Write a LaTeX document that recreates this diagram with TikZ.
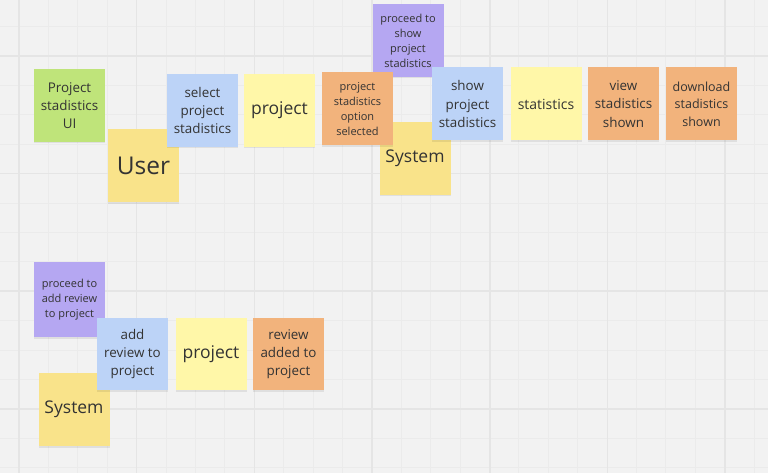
\documentclass[tikz,border=0pt]{standalone}
\usepackage{fontspec}
\setmainfont{Open Sans}
\usepackage{tikz}
\usetikzlibrary{shadows}
\definecolor{bgcol}{HTML}{F2F2F2}
\definecolor{gridminor}{HTML}{EBEBEB}
\definecolor{gridmajor}{HTML}{E5E5E5}
\definecolor{notegreen}{HTML}{BFE47A}
\definecolor{noteyellow}{HTML}{F9E38A}
\definecolor{notelight}{HTML}{FFF7A8}
\definecolor{noteblue}{HTML}{BCD3F7}
\definecolor{noteorange}{HTML}{F2B37C}
\definecolor{notepurple}{HTML}{B5A7F2}
\definecolor{inkcol}{HTML}{333333}
\newcommand{\SizeN}{\fontsize{13.4}{18.3}\selectfont}
\newcommand{\SizeS}{\fontsize{11}{15}\selectfont}
\newcommand{\SizeL}{\fontsize{17.5}{22}\selectfont}
\newcommand{\SizeXL}{\fontsize{24.5}{28}\selectfont}

\begin{document}
\begin{tikzpicture}[x=1pt,y=-1pt,node distance=77pt,
    note/.style={minimum width=71pt,minimum height=73pt,inner sep=1pt,align=center,
      text=inkcol,font=\SizeN,general shadow={fill=black,opacity=.08,shadow yshift=-1.5pt}},
    green/.style={note,fill=notegreen},
    yellow/.style={note,fill=noteyellow},
    light/.style={note,fill=notelight},
    blue/.style={note,fill=noteblue},
    orange/.style={note,fill=noteorange},
    purple/.style={note,fill=notepurple}]

      \fill[bgcol] (0,0) rectangle (768,473);
      \useasboundingbox (0,0) rectangle (768,473);
      % grid
      \foreach \i in {0,...,26} {
        \draw[gridminor, line width=.9pt] ({-10.4+29.4*\i},0) -- ++(0,473);
      }
      \foreach \i in {0,...,16} {
        \draw[gridminor, line width=.9pt] (0,{-2.8+29.4*\i}) -- ++(768,0);
      }
      \foreach \i in {0,...,6} {
        \draw[gridmajor, line width=1.5pt] ({19+117.7*\i},0) -- ++(0,473);
      }
      \foreach \i in {0,...,3} {
        \draw[gridmajor, line width=1.5pt] (0,{56+117.6*\i}) -- ++(768,0);
      }

      % project statistics
      \node[green] (ui) at (69.5,105.5) {Project\\stadistics\\UI};
      \node[yellow, font=\SizeXL] (user) at (143.5,166) {User};
      \node[blue] (select) at (202.5,110.5) {select\\project\\stadistics};
      \node[light, font=\SizeL] (proja) [right of=select] {project};
      \node[purple, font=\SizeS] (proceeda) at (408,40.5) {proceed to\\show\\project\\stadistics};
      \node[yellow, font=\SizeL] (sysa) at (415,158.5) {System};
      \node[orange, font=\SizeS] (option) at (357.5,109) {project\\stadistics\\option\\selected};
      \node[blue] (show) at (467.5,104) {show\\project\\stadistics};
      \node[light, font=\fontsize{14}{18}\selectfont, node distance=78.5pt] (stats) [right of=show] {statistics};
      \node[orange, node distance=77.5pt] (view) [right of=stats] {view\\stadistics\\shown};
      \node[orange, font=\fontsize{12.5}{17.5}\selectfont, node distance=78pt] (download) [right of=view] {download\\stadistics\\shown};

      % add review
      \node[purple, font=\SizeS, minimum height=75pt] (proceedb) at (69.5,299.5) {proceed to\\add review\\to project};
      \node[yellow, font=\SizeL] (sysb) at (74,409.5) {System};
      \node[blue, minimum height=72pt] (addrev) at (132.5,354) {add\\review to\\project};
      \node[light, font=\SizeL, minimum height=72pt, node distance=78.5pt] (projb) [right of=addrev] {project};
      \node[orange, minimum height=72pt, node distance=77.5pt] (added) [right of=projb] {review\\added to\\project};
    \end{tikzpicture}
\end{document}
